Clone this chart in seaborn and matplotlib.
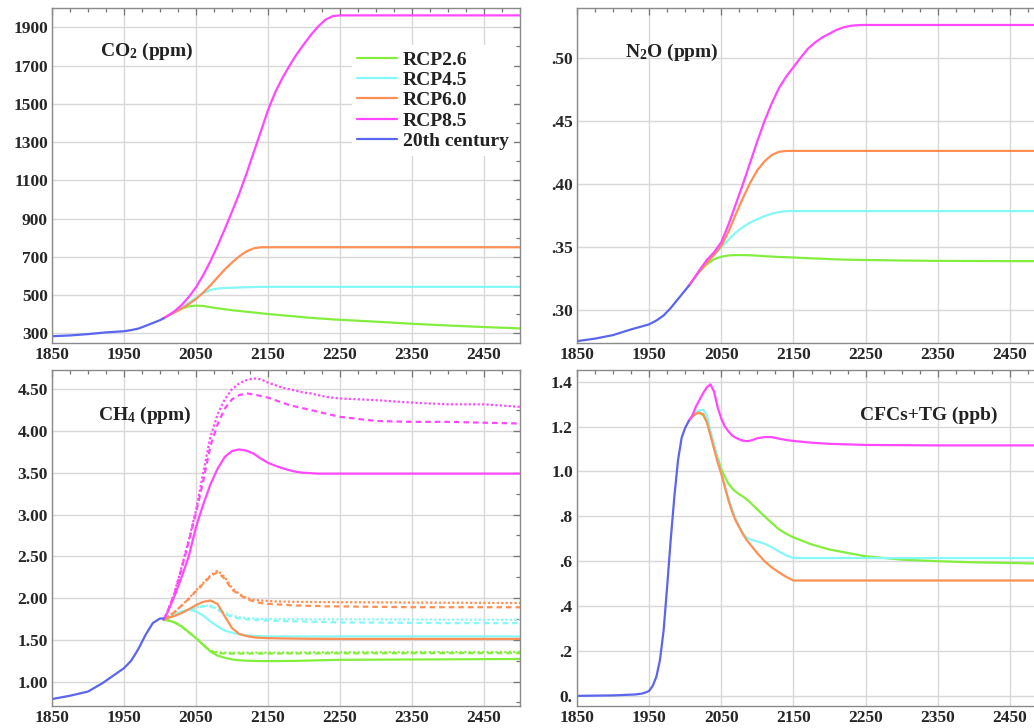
import matplotlib
matplotlib.use("Agg")
import matplotlib.pyplot as plt
import seaborn as sns
from matplotlib.ticker import FixedLocator, FixedFormatter

# ---------------- data ----------------
scenarios = ["RCP2.6", "RCP4.5", "RCP6.0", "RCP8.5"]
hist_label = "20th century"

# future year grid (CO2, N2O, CH4)
fut_years = [2005, 2010, 2020, 2030, 2040, 2050, 2060, 2070, 2080, 2090, 2100,
             2110, 2120, 2130, 2140, 2150, 2160, 2170, 2180, 2190, 2200,
             2210, 2220, 2230, 2240, 2250, 2300, 2350, 2400, 2450, 2500]

# CO2 (ppm)
co2_hist_years = [1850, 1875, 1900, 1925, 1950, 1960, 1970, 1980, 1990, 2000, 2005]
co2_hist = [285, 289, 296, 305, 311, 317, 325, 339, 354, 369, 379]
co2_rcp26 = [379, 389, 412, 430, 441, 445, 443, 437, 431, 426, 421, 417, 413, 409, 405, 401,
             398, 394, 391, 388, 384, 381, 378, 376, 373, 371, 361, 350, 341, 333, 326]
co2_rcp45 = [379, 390, 412, 435, 459, 487, 510, 527, 534, 537, 538, 540, 541, 542, 543, 543,
             543, 543, 543, 543, 543, 543, 543, 543, 543, 543, 543, 543, 543, 543, 543]
co2_rcp60 = [379, 390, 409, 429, 453, 480, 513, 551, 593, 634, 670, 702, 728, 744, 750, 750,
             750, 750, 750, 750, 750, 750, 750, 750, 750, 750, 750, 750, 750, 750, 750]
co2_rcp85 = [379, 390, 415, 448, 490, 541, 604, 677, 758, 845, 936, 1030, 1133, 1245, 1355, 1467,
             1560, 1635, 1700, 1760, 1812, 1862, 1905, 1940, 1958, 1962, 1962, 1962, 1962, 1962, 1962]

# N2O (ppm)
n2o_hist_years = [1850, 1875, 1900, 1925, 1950, 1960, 1970, 1980, 1990, 2000, 2005]
n2o_hist = [0.2757, 0.2777, 0.2805, 0.2850, 0.2890, 0.2920, 0.2960, 0.3020, 0.3090, 0.3160, 0.3195]
n2o_rcp26 = [0.3195, 0.3235, 0.3310, 0.3365, 0.3405, 0.3425, 0.3435, 0.3438, 0.3438, 0.3436, 0.3433,
             0.3429, 0.3426, 0.3423, 0.3421, 0.3419, 0.3416, 0.3413, 0.3411, 0.3409, 0.3406,
             0.3404, 0.3402, 0.3401, 0.3400, 0.3399, 0.3395, 0.3392, 0.3391, 0.3390, 0.3390]
n2o_rcp45 = [0.3195, 0.3235, 0.3315, 0.3380, 0.3440, 0.3500, 0.3560, 0.3615, 0.3660, 0.3695, 0.3722,
             0.3746, 0.3765, 0.3778, 0.3785, 0.3786, 0.3786, 0.3786, 0.3786, 0.3786, 0.3786,
             0.3786, 0.3786, 0.3786, 0.3786, 0.3786, 0.3786, 0.3786, 0.3786, 0.3786, 0.3786]
n2o_rcp60 = [0.3195, 0.3235, 0.3310, 0.3375, 0.3440, 0.3510, 0.3625, 0.3760, 0.3890, 0.4010, 0.4110,
             0.4180, 0.4230, 0.4255, 0.4262, 0.4262, 0.4262, 0.4262, 0.4262, 0.4262, 0.4262,
             0.4262, 0.4262, 0.4262, 0.4262, 0.4262, 0.4262, 0.4262, 0.4262, 0.4262, 0.4262]
n2o_rcp85 = [0.3195, 0.3235, 0.3320, 0.3400, 0.3460, 0.3540, 0.3680, 0.3840, 0.4000, 0.4170, 0.4340,
             0.4500, 0.4640, 0.4760, 0.4850, 0.4925, 0.5000, 0.5070, 0.5120, 0.5160, 0.5190,
             0.5220, 0.5240, 0.5252, 0.5257, 0.5258, 0.5258, 0.5258, 0.5258, 0.5258, 0.5258]

# CH4 (ppm): solid, dashed and dotted variants
ch4_hist_years = [1850, 1875, 1900, 1910, 1920, 1930, 1940, 1950, 1960, 1970, 1980, 1990, 2000, 2005]
ch4_hist = [0.79, 0.83, 0.88, 0.93, 0.98, 1.04, 1.10, 1.16, 1.25, 1.39, 1.56, 1.70, 1.755, 1.755]
ch4_rcp26 = [1.74, 1.735, 1.71, 1.66, 1.59, 1.52, 1.44, 1.36, 1.31, 1.285, 1.265, 1.255, 1.25, 1.247,
             1.245, 1.245, 1.245, 1.246, 1.247, 1.248, 1.25, 1.252, 1.254, 1.256, 1.258, 1.26,
             1.262, 1.264, 1.266, 1.268, 1.27]
ch4_rcp26_dashed = [1.74, 1.735, 1.71, 1.66, 1.59, 1.52, 1.44, 1.365, 1.34, 1.335, 1.335, 1.335, 1.335,
                    1.335, 1.335, 1.335, 1.335, 1.336, 1.336, 1.336, 1.337, 1.337, 1.337, 1.338,
                    1.338, 1.338, 1.339, 1.339, 1.34, 1.34, 1.34]
ch4_rcp26_dotted = [1.74, 1.735, 1.71, 1.66, 1.59, 1.52, 1.44, 1.37, 1.35, 1.345, 1.345, 1.345, 1.345,
                    1.345, 1.345, 1.345, 1.346, 1.346, 1.347, 1.347, 1.348, 1.348, 1.349, 1.349,
                    1.35, 1.35, 1.351, 1.352, 1.353, 1.354, 1.355]
ch4_rcp45 = [1.74, 1.76, 1.80, 1.84, 1.86, 1.84, 1.79, 1.72, 1.66, 1.61, 1.585, 1.565, 1.553, 1.547,
             1.543, 1.54, 1.54, 1.54, 1.54, 1.54, 1.54, 1.54, 1.54, 1.54, 1.54, 1.54, 1.54, 1.54,
             1.54, 1.54, 1.54]
ch4_rcp45_dashed = [1.74, 1.76, 1.79, 1.83, 1.86, 1.88, 1.90, 1.90, 1.86, 1.81, 1.775, 1.755, 1.745,
                    1.74, 1.735, 1.73, 1.728, 1.725, 1.722, 1.72, 1.718, 1.716, 1.714, 1.712, 1.71,
                    1.708, 1.705, 1.703, 1.70, 1.70, 1.70]
ch4_rcp45_dotted = [1.74, 1.76, 1.79, 1.83, 1.86, 1.885, 1.905, 1.91, 1.875, 1.825, 1.79, 1.77, 1.76,
                    1.755, 1.75, 1.75, 1.749, 1.748, 1.747, 1.746, 1.745, 1.745, 1.745, 1.745,
                    1.745, 1.745, 1.744, 1.743, 1.742, 1.741, 1.74]
ch4_rcp60 = [1.74, 1.76, 1.785, 1.82, 1.865, 1.915, 1.955, 1.97, 1.93, 1.78, 1.64, 1.57, 1.545, 1.53,
             1.523, 1.52, 1.518, 1.516, 1.515, 1.514, 1.513, 1.512, 1.512, 1.511, 1.511, 1.51,
             1.51, 1.51, 1.51, 1.51, 1.51]
ch4_rcp60_dashed = [1.74, 1.77, 1.83, 1.91, 1.99, 2.08, 2.17, 2.26, 2.31, 2.23, 2.10, 2.04, 1.99,
                    1.96, 1.94, 1.93, 1.925, 1.92, 1.915, 1.91, 1.91, 1.905, 1.905, 1.90, 1.90,
                    1.90, 1.895, 1.89, 1.89, 1.89, 1.89]
ch4_rcp60_dotted = [1.74, 1.77, 1.83, 1.91, 1.995, 2.09, 2.18, 2.27, 2.33, 2.25, 2.12, 2.05, 2.00,
                    1.98, 1.97, 1.965, 1.96, 1.958, 1.956, 1.955, 1.954, 1.953, 1.952, 1.951,
                    1.95, 1.95, 1.948, 1.946, 1.944, 1.942, 1.94]
ch4_rcp85 = [1.74, 1.82, 2.02, 2.25, 2.50, 2.85, 3.12, 3.36, 3.55, 3.69, 3.76, 3.78, 3.765, 3.73,
             3.67, 3.62, 3.585, 3.555, 3.53, 3.51, 3.50, 3.495, 3.49, 3.49, 3.49, 3.49, 3.49,
             3.49, 3.49, 3.49, 3.49]
ch4_rcp85_dashed = [1.74, 1.83, 2.05, 2.35, 2.68, 3.02, 3.40, 3.82, 4.08, 4.27, 4.38, 4.43, 4.45,
                    4.44, 4.42, 4.40, 4.37, 4.34, 4.31, 4.29, 4.27, 4.25, 4.23, 4.21, 4.19, 4.17,
                    4.12, 4.11, 4.11, 4.10, 4.09]
ch4_rcp85_dotted = [1.74, 1.83, 2.06, 2.37, 2.70, 3.05, 3.50, 3.93, 4.20, 4.38, 4.50, 4.57, 4.61,
                    4.63, 4.62, 4.58, 4.55, 4.52, 4.50, 4.48, 4.46, 4.45, 4.43, 4.41, 4.40, 4.39,
                    4.37, 4.34, 4.32, 4.32, 4.29]

# CFCs + trace gases (ppb)
cfc_hist_years = [1850, 1900, 1930, 1940, 1945, 1950, 1955, 1960, 1965, 1970, 1975, 1980, 1985,
                  1990, 1995, 2000, 2005]
cfc_hist = [0.0, 0.002, 0.006, 0.01, 0.015, 0.022, 0.045, 0.085, 0.16, 0.29, 0.49, 0.70, 0.89,
            1.05, 1.15, 1.195, 1.225]
cfc_years = [2005, 2010, 2015, 2020, 2025, 2030, 2035, 2040, 2045, 2050, 2055, 2060, 2065, 2070,
             2075, 2080, 2085, 2090, 2095, 2100, 2110, 2120, 2130, 2140, 2150, 2175, 2200, 2250,
             2300, 2350, 2400, 2450, 2500]
cfc_rcp26 = [1.225, 1.245, 1.258, 1.26, 1.25, 1.22, 1.17, 1.11, 1.06, 1.01, 0.975, 0.945, 0.925,
             0.91, 0.898, 0.888, 0.876, 0.862, 0.846, 0.83, 0.80, 0.77, 0.742, 0.722, 0.706,
             0.675, 0.652, 0.622, 0.607, 0.600, 0.595, 0.592, 0.589]
cfc_rcp45 = [1.225, 1.25, 1.265, 1.272, 1.275, 1.25, 1.18, 1.12, 1.05, 0.99, 0.93, 0.88, 0.83,
             0.79, 0.755, 0.725, 0.705, 0.697, 0.692, 0.688, 0.678, 0.662, 0.643, 0.626, 0.614,
             0.614, 0.614, 0.614, 0.614, 0.614, 0.614, 0.614, 0.614]
cfc_rcp60 = [1.225, 1.245, 1.258, 1.262, 1.255, 1.22, 1.16, 1.10, 1.04, 0.99, 0.93, 0.87, 0.82,
             0.78, 0.75, 0.72, 0.695, 0.675, 0.655, 0.635, 0.60, 0.572, 0.55, 0.53, 0.514,
             0.514, 0.514, 0.514, 0.514, 0.514, 0.514, 0.514, 0.514]
cfc_rcp85 = [1.225, 1.25, 1.29, 1.32, 1.35, 1.375, 1.388, 1.355, 1.285, 1.235, 1.20, 1.178, 1.16,
             1.15, 1.143, 1.137, 1.135, 1.137, 1.142, 1.148, 1.153, 1.153, 1.146, 1.14, 1.136,
             1.128, 1.123, 1.118, 1.117, 1.116, 1.116, 1.116, 1.116]

# axes ticks / labels
x_major = [1850, 1950, 2050, 2150, 2250, 2350, 2450]
x_labels = ["1850", "1950", "2050", "2150", "2250", "2350", "2450"]
co2_ticks = [300, 500, 700, 900, 1100, 1300, 1500, 1700, 1900]
co2_labels = ["300", "500", "700", "900", "1100", "1300", "1500", "1700", "1900"]
n2o_ticks = [0.30, 0.35, 0.40, 0.45, 0.50]
n2o_labels = [".30", ".35", ".40", ".45", ".50"]
ch4_ticks = [1.0, 1.5, 2.0, 2.5, 3.0, 3.5, 4.0, 4.5]
ch4_labels = ["1.00", "1.50", "2.00", "2.50", "3.00", "3.50", "4.00", "4.50"]
cfc_ticks = [0.0, 0.2, 0.4, 0.6, 0.8, 1.0, 1.2, 1.4]
cfc_labels = ["0.", ".2", ".4", ".6", ".8", "1.0", "1.2", "1.4"]

titles = ["CO$_2$ (ppm)", "N$_2$O (ppm)", "CH$_4$ (ppm)", "CFCs+TG (ppb)"]

# ---------------- style ----------------
colors = {"RCP2.6": "#84EE3E", "RCP4.5": "#86F8F8", "RCP6.0": "#FF8F52",
          "RCP8.5": "#FF48FF", hist_label: "#5B66EE"}

sns.set_theme(style="white")
plt.rcParams["font.family"] = ["Liberation Serif", "DejaVu Serif"]
plt.rcParams["font.weight"] = "bold"
plt.rcParams["mathtext.fontset"] = "custom"
plt.rcParams["mathtext.rm"] = "Liberation Serif:bold"
plt.rcParams["mathtext.bf"] = "Liberation Serif:bold"
plt.rcParams["mathtext.it"] = "Liberation Serif:bold"

fig = plt.figure(figsize=(10.34, 7.28), dpi=100)
W, H = 1034.0, 728.0


def make_ax(x0, x1, y0, y1):
    return fig.add_axes([x0 / W, 1 - y1 / H, (x1 - x0) / W, (y1 - y0) / H])


ax_co2 = make_ax(52, 520, 8.3, 343.3)
ax_n2o = make_ax(577, 1046, 8.3, 343.3)
ax_ch4 = make_ax(52, 520, 370, 705.5)
ax_cfc = make_ax(577, 1046, 370, 705.5)

LW = 1.6


def line(ax, x, y, key, ls="-", label=None):
    sns.lineplot(x=x, y=y, ax=ax, color=colors[key], linewidth=LW, linestyle=ls,
                 label=label, errorbar=None, sort=False)


def style_ax(ax, ylim, yticks, ylabels, yminor, title, tx, ty):
    ax.set_xlim(1850, 2500)
    ax.set_ylim(*ylim)
    ax.xaxis.set_major_locator(FixedLocator(x_major))
    ax.xaxis.set_major_formatter(FixedFormatter(x_labels))
    ax.xaxis.set_minor_locator(FixedLocator(list(range(1850, 2501, 25))))
    ax.yaxis.set_major_locator(FixedLocator(yticks))
    ax.yaxis.set_major_formatter(FixedFormatter(ylabels))
    ax.yaxis.set_minor_locator(FixedLocator(yminor))
    ax.grid(True, which="major", color="#d8d8d8", linewidth=1.0)
    ax.set_axisbelow(True)
    ax.tick_params(which="both", direction="in", top=True, right=True,
                   labeltop=False, labelright=False, color="#777777", width=0.9)
    ax.tick_params(which="major", length=5, labelsize=12.5, pad=3)
    ax.tick_params(which="minor", length=3)
    for lab in ax.get_xticklabels() + ax.get_yticklabels():
        lab.set_fontweight("bold")
    for sp in ax.spines.values():
        sp.set_color("#8a8a8a")
        sp.set_linewidth(1.0)
    ax.set_xlabel("")
    ax.set_ylabel("")
    ax.text(tx, ty, title, transform=ax.transAxes, fontsize=14, fontweight="bold",
            ha="left", va="center", color="#222222")


# CO2
line(ax_co2, fut_years, co2_rcp26, "RCP2.6", label="RCP2.6")
line(ax_co2, fut_years, co2_rcp45, "RCP4.5", label="RCP4.5")
line(ax_co2, fut_years, co2_rcp60, "RCP6.0", label="RCP6.0")
line(ax_co2, fut_years, co2_rcp85, "RCP8.5", label="RCP8.5")
line(ax_co2, co2_hist_years, co2_hist, hist_label, label=hist_label)
style_ax(ax_co2, (248, 1999), co2_ticks, co2_labels, list(range(300, 2000, 100)),
         titles[0], 0.103, 0.870)
leg = ax_co2.legend(loc="upper left", bbox_to_anchor=(0.64, 0.89), frameon=True,
                    fontsize=14, handlelength=2.05, handletextpad=0.28, labelspacing=0.14,
                    borderpad=0.3, borderaxespad=0.0, fancybox=False)
leg.get_frame().set_facecolor("white")
leg.get_frame().set_edgecolor("none")
leg.get_frame().set_alpha(1.0)
for t in leg.get_texts():
    t.set_fontweight("bold")
    t.set_color("#222222")

# N2O
line(ax_n2o, fut_years, n2o_rcp26, "RCP2.6")
line(ax_n2o, fut_years, n2o_rcp45, "RCP4.5")
line(ax_n2o, fut_years, n2o_rcp60, "RCP6.0")
line(ax_n2o, fut_years, n2o_rcp85, "RCP8.5")
line(ax_n2o, n2o_hist_years, n2o_hist, hist_label)
style_ax(ax_n2o, (0.274, 0.539), n2o_ticks, n2o_labels,
         [0.275 + 0.025 * i for i in range(11)], titles[1], 0.102, 0.867)

# CH4
DASH = (0, (2.5, 1.8))
DOT = (0, (1.0, 1.0))
for key, s, d, o in [("RCP2.6", ch4_rcp26, ch4_rcp26_dashed, ch4_rcp26_dotted),
                     ("RCP4.5", ch4_rcp45, ch4_rcp45_dashed, ch4_rcp45_dotted),
                     ("RCP6.0", ch4_rcp60, ch4_rcp60_dashed, ch4_rcp60_dotted),
                     ("RCP8.5", ch4_rcp85, ch4_rcp85_dashed, ch4_rcp85_dotted)]:
    line(ax_ch4, fut_years, d, key, ls=DASH)
    line(ax_ch4, fut_years, o, key, ls=DOT)
    line(ax_ch4, fut_years, s, key)
line(ax_ch4, ch4_hist_years, ch4_hist, hist_label)
style_ax(ax_ch4, (0.713, 4.731), ch4_ticks, ch4_labels,
         [0.75 + 0.25 * i for i in range(17)], titles[2], 0.098, 0.866)

# CFCs
line(ax_cfc, cfc_years, cfc_rcp26, "RCP2.6")
line(ax_cfc, cfc_years, cfc_rcp45, "RCP4.5")
line(ax_cfc, cfc_years, cfc_rcp60, "RCP6.0")
line(ax_cfc, cfc_years, cfc_rcp85, "RCP8.5")
line(ax_cfc, cfc_hist_years, cfc_hist, hist_label)
style_ax(ax_cfc, (-0.043, 1.452), cfc_ticks, cfc_labels,
         [0.1 * i for i in range(15)], titles[3], 0.603, 0.866)

for ax in (ax_n2o, ax_ch4, ax_cfc):
    if ax.get_legend() is not None:
        ax.get_legend().remove()

fig.savefig("out.png", dpi=100)
